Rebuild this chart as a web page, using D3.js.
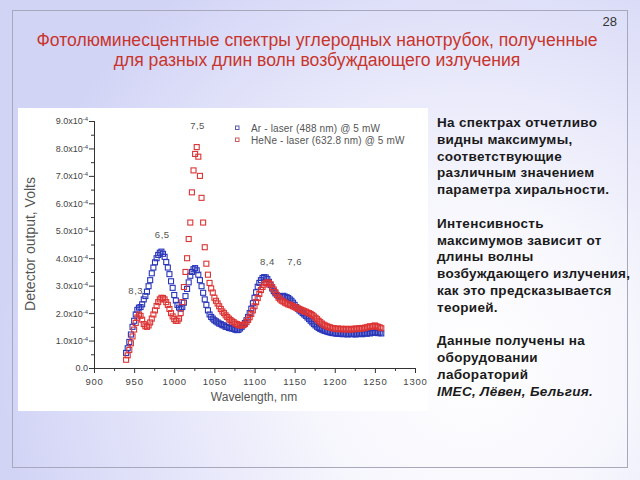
<!DOCTYPE html>
<html><head><meta charset="utf-8">
<script src="https://cdn.jsdelivr.net/npm/d3@7"></script>
<style>html,body{margin:0;padding:0;background:#fff}svg{display:block}</style>
</head><body>
<svg id="c" width="640" height="480"></svg>
<script>
// ---- data (detector output in units of 1e-4 V) ----
const wavelengths = [
 940,942,944,946,948,950,952,954,956,958,
 960,962,964,966,968,970,972,974,976,978,
 980,982,984,986,988,990,992,994,996,998,
 1000,1002,1004,1006,1008,1010,1012,1014,1016,1018,
 1020,1022,1024,1026,1028,1030,1032,1034,1036,1038,
 1040,1042,1044,1046,1048,1050,1052,1054,1056,1058,
 1060,1062,1064,1066,1068,1070,1072,1074,1076,1078,
 1080,1082,1084,1086,1088,1090,1092,1094,1096,1098,
 1100,1102,1104,1106,1108,1110,1112,1114,1116,1118,
 1120,1122,1124,1126,1128,1130,1132,1134,1136,1138,
 1140,1142,1144,1146,1148,1150,1152,1154,1156,1158,
 1160,1162,1164,1166,1168,1170,1172,1174,1176,1178,
 1180,1182,1184,1186,1188,1190,1192,1194,1196,1198,
 1200,1202,1204,1206,1208,1210,1212,1214,1216,1218,
 1220,1222,1224,1226,1228,1230,1232,1234,1236,1238,
 1240,1242,1244,1246,1248,1250,1252,1254,1256,1258];
const arLaser = [
 0.55,0.72,0.95,1.22,1.50,1.72,1.95,2.12,2.20,2.22,
 2.32,2.50,2.62,2.78,2.98,3.20,3.45,3.66,3.85,4.00,
 4.12,4.20,4.24,4.16,4.05,3.86,3.66,3.42,3.16,2.92,
 2.66,2.46,2.30,2.20,2.16,2.22,2.38,2.62,2.88,3.12,
 3.36,3.50,3.60,3.64,3.56,3.40,3.20,2.98,2.74,2.50,
 2.30,2.10,1.95,1.86,1.80,1.74,1.70,1.66,1.62,1.60,
 1.56,1.55,1.50,1.50,1.46,1.45,1.44,1.42,1.40,1.38,
 1.39,1.44,1.50,1.56,1.64,1.74,1.86,2.00,2.16,2.36,
 2.56,2.76,2.96,3.10,3.20,3.28,3.31,3.30,3.24,3.14,
 3.02,2.90,2.80,2.72,2.66,2.62,2.60,2.62,2.63,2.60,
 2.58,2.55,2.50,2.45,2.38,2.30,2.22,2.16,2.10,2.06,
 2.00,1.95,1.90,1.84,1.78,1.72,1.66,1.60,1.55,1.50,
 1.46,1.42,1.40,1.37,1.35,1.33,1.31,1.30,1.28,1.27,
 1.27,1.25,1.26,1.24,1.25,1.23,1.25,1.24,1.22,1.24,
 1.25,1.23,1.24,1.22,1.25,1.24,1.26,1.23,1.25,1.27,
 1.25,1.28,1.26,1.29,1.30,1.28,1.30,1.27,1.29,1.26];
const heneLaser = [
 0.30,0.46,0.66,0.90,1.15,1.40,1.64,1.84,1.95,1.90,
 1.76,1.60,1.52,1.50,1.55,1.66,1.80,1.95,2.10,2.26,
 2.40,2.50,2.56,2.55,2.50,2.40,2.30,2.15,2.00,1.88,
 1.78,1.72,1.72,1.80,2.00,2.40,2.95,3.50,4.00,4.70,
 5.30,6.40,7.20,7.80,8.05,7.70,7.00,6.20,5.30,4.40,
 3.80,3.40,3.10,2.90,2.75,2.56,2.45,2.35,2.25,2.15,
 2.06,2.00,1.92,1.86,1.80,1.75,1.70,1.67,1.62,1.60,
 1.57,1.55,1.55,1.57,1.60,1.67,1.75,1.85,1.97,2.10,
 2.25,2.40,2.55,2.70,2.84,2.95,3.04,3.10,3.12,3.10,
 3.05,2.95,2.86,2.76,2.66,2.56,2.50,2.45,2.42,2.38,
 2.35,2.32,2.30,2.28,2.25,2.22,2.20,2.17,2.15,2.12,
 2.10,2.07,2.05,2.02,2.00,1.97,1.93,1.88,1.83,1.78,
 1.72,1.67,1.62,1.58,1.55,1.52,1.50,1.48,1.46,1.45,
 1.44,1.42,1.44,1.41,1.43,1.42,1.40,1.43,1.41,1.42,
 1.40,1.43,1.41,1.44,1.42,1.45,1.43,1.46,1.44,1.47,
 1.48,1.50,1.52,1.50,1.53,1.55,1.52,1.50,1.48,1.45];
const seriesNames = ["Ar - laser (488 nm) @ 5 mW", "HeNe - laser (632.8 nm) @ 5 mW"];
const xTicks = [900,950,1000,1050,1100,1150,1200,1250,1300];
const yTicks = [0,1,2,3,4,5,6,7,8,9];
const peakLabels = ["7,5","6,5","8,3","8,4","7,6"];
const peakWl = [1029,985,952,1116,1150];
const peakVal = [8.7,4.75,2.7,3.75,3.75];
const titleLines = ["Фотолюминесцентные спектры углеродных нанотрубок, полученные",
                    "для разных длин волн возбуждающего излучения"];
const pageNumber = "28";
const sideText = [
 ["На спектрах отчетливо","видны максимумы,","соответствующие","различным значением","параметра хиральности."],
 ["Интенсивность","максимумов зависит от","длины волны","возбуждающего излучения,","как это предсказывается","теорией."],
 ["Данные получены на","оборудовании","лабораторий"]];
const sideItalic = "IMEC, Лёвен, Бельгия.";

// ---- drawing ----
const svg = d3.select("#c");
const defs = svg.append("defs");
const rg = defs.append("radialGradient").attr("id","bg").attr("gradientUnits","userSpaceOnUse")
  .attr("cx",470).attr("cy",360).attr("r",470);
rg.append("stop").attr("offset","0").attr("stop-color","#ffffff");
rg.append("stop").attr("offset","0.35").attr("stop-color","#f6f6fd");
rg.append("stop").attr("offset","1").attr("stop-color","#d2d4f6");
svg.append("rect").attr("width",640).attr("height",480).attr("fill","url(#bg)");
svg.append("rect").attr("x",12.5).attr("y",10.5).attr("width",615).attr("height",457)
  .attr("fill","none").attr("stroke","#a8a8bc").attr("stroke-width",1);

svg.append("text").attr("x",617).attr("y",26).attr("text-anchor","end")
  .attr("font-family","Liberation Sans, Arial, sans-serif").attr("font-size",13).attr("fill","#333")
  .text(pageNumber);
svg.selectAll("text.title").data(titleLines).join("text").attr("class","title")
  .attr("x",317).attr("y",(d,i)=>46+i*20).attr("text-anchor","middle")
  .attr("font-family","Liberation Sans, Arial, sans-serif").attr("font-size",17.6).attr("fill","#c8352c")
  .text(d=>d);

// chart panel
svg.append("rect").attr("x",18).attr("y",108).attr("width",410).attr("height",303).attr("fill","#ffffff");

const x = d3.scaleLinear().domain([900,1300]).range([94,415]);
const y = d3.scaleLinear().domain([0,9]).range([368,121]);
const font = "Liberation Sans, Arial, sans-serif";

const gx = svg.append("g").attr("transform",`translate(0,${y(0)})`)
  .call(d3.axisBottom(x).tickValues(xTicks).tickSize(5).tickFormat(d3.format("d")));
svg.append("g").attr("transform",`translate(0,${y(0)})`)
  .call(d3.axisBottom(x).tickValues(xTicks.slice(0,-1).map(v=>v+25)).tickSize(3).tickFormat(""));
const gy = svg.append("g").attr("transform",`translate(${x(900)},0)`)
  .call(d3.axisLeft(y).tickValues(yTicks).tickSize(5).tickFormat(""));
svg.append("g").attr("transform",`translate(${x(900)},0)`)
  .call(d3.axisLeft(y).tickValues(yTicks.slice(0,-1).map(v=>v+0.5)).tickSize(3).tickFormat(""));
svg.selectAll(".domain").attr("stroke","#333");
svg.selectAll(".tick line").attr("stroke","#333");
gx.selectAll("text").attr("font-family",font).attr("font-size",9.5).attr("fill","#444")
  .attr("letter-spacing","0.8").attr("dy","0.95em");
gy.selectAll(".tick").each(function(d){
  const t = d3.select(this).append("text").attr("x",-6).attr("dy","0.32em")
    .attr("text-anchor","end").attr("font-family",font).attr("font-size",9).attr("fill","#444");
  if(d===0){ t.text("0.0"); }
  else { t.append("tspan").text(d.toFixed(1)+"x10");
         t.append("tspan").attr("dy","-0.5em").attr("font-size",6).text("-4"); }
});

svg.append("text").attr("x",254).attr("y",401).attr("text-anchor","middle")
  .attr("font-family",font).attr("font-size",12).attr("fill","#555").text("Wavelength, nm");
svg.append("text").attr("transform","translate(35,244) rotate(-90)").attr("text-anchor","middle")
  .attr("font-family",font).attr("font-size",14).attr("fill","#555").text("Detector output, Volts");

// markers
const ms = 5;
const colors = ["#2a36b8","#dc3434"];
[arLaser, heneLaser].forEach((vals,si)=>{
  svg.append("g").selectAll("rect").data(vals).join("rect")
    .attr("x",(d,i)=>x(wavelengths[i])-ms/2).attr("y",d=>y(d)-ms/2)
    .attr("width",ms).attr("height",ms).attr("fill","none")
    .attr("stroke",colors[si]).attr("stroke-width",1.1);
});

// legend
const lg = svg.append("g");
seriesNames.forEach((n,i)=>{
  lg.append("rect").attr("x",235.5).attr("y",126+i*12).attr("width",3.5).attr("height",3.5)
    .attr("fill","none").attr("stroke",i? "#cc5a5a":"#5a5ab4").attr("stroke-width",1);
  lg.append("text").attr("x",251).attr("y",131.5+i*12).attr("font-family",font).attr("font-size",10)
    .attr("fill","#555").attr("letter-spacing","0.15").text(n);
});

// peak labels
svg.selectAll("text.pk").data(peakLabels).join("text").attr("class","pk")
  .attr("x",(d,i)=>x(peakWl[i])).attr("y",(d,i)=>y(peakVal[i])).attr("text-anchor","middle")
  .attr("font-family",font).attr("font-size",9.5).attr("fill","#555").attr("letter-spacing","0.5")
  .text(d=>d);

// side text
let line = 0;
const st = svg.append("g").attr("font-family",font).attr("font-weight","bold").attr("font-size",13.5)
  .attr("letter-spacing","0.3").attr("fill","#1a1a1a");
sideText.forEach((para,pi)=>{
  para.forEach(s=>{ st.append("text").attr("x",437).attr("y",127+line*16.8).text(s); line++; });
  if(pi<sideText.length-1) line++;
});
st.append("text").attr("x",437).attr("y",127+line*16.8).attr("font-style","italic").text(sideItalic);
</script>
</body></html>
